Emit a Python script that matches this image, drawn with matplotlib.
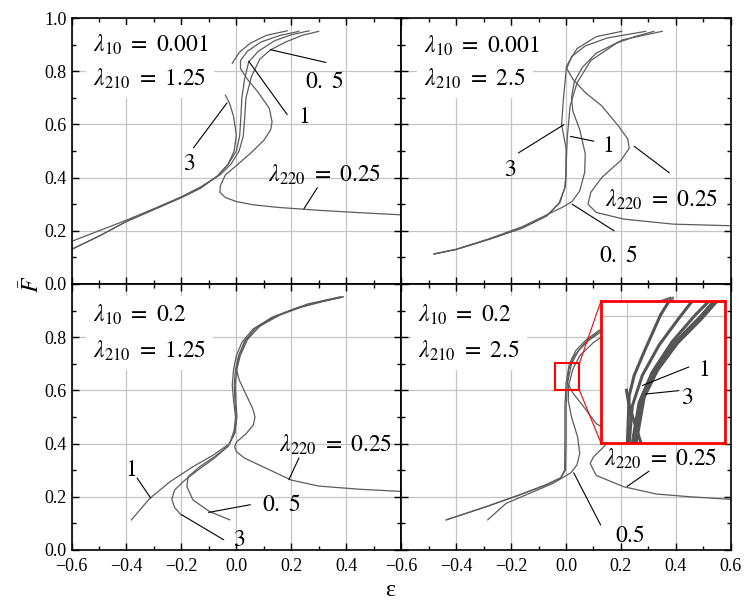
import matplotlib.pyplot as plt
from matplotlib.patches import Rectangle

plt.rcParams['font.family'] = 'Liberation Serif'
plt.rcParams['mathtext.fontset'] = 'stix'

# top-left panel: lambda10 = 0.001, lambda210 = 1.25
tl_3 = [(-0.6, 0.13), (-0.5, 0.18), (-0.4, 0.235), (-0.3, 0.28), (-0.2, 0.325), (-0.13, 0.36),
        (-0.07, 0.405), (-0.03, 0.45), (-0.008, 0.50), (0.0, 0.56), (-0.01, 0.63), (-0.025, 0.68), (-0.04, 0.71)]
tl_3u = [(-0.015, 0.83), (0.01, 0.87), (0.05, 0.905), (0.11, 0.935), (0.185, 0.952)]
tl_1 = [(-0.6, 0.13), (-0.5, 0.18), (-0.4, 0.235), (-0.3, 0.28), (-0.2, 0.325), (-0.13, 0.362),
        (-0.07, 0.405), (-0.03, 0.45), (0.0, 0.50), (0.012, 0.556), (0.016, 0.62), (0.02, 0.70),
        (0.03, 0.77), (0.045, 0.835), (0.08, 0.875), (0.14, 0.915), (0.2, 0.937), (0.265, 0.952)]
tl_05 = [(-0.6, 0.16), (-0.5, 0.2), (-0.4, 0.24), (-0.3, 0.283), (-0.2, 0.328), (-0.13, 0.365),
         (-0.06, 0.41), (-0.02, 0.45), (0.01, 0.50), (0.025, 0.556), (0.03, 0.62), (0.035, 0.70),
         (0.055, 0.78), (0.085, 0.845), (0.124, 0.88), (0.18, 0.91), (0.24, 0.935), (0.30, 0.95)]
tl_025 = [(0.6, 0.26), (0.45, 0.268), (0.3, 0.277), (0.15, 0.288), (0.06, 0.298), (0.0, 0.31),
          (-0.04, 0.325), (-0.06, 0.345), (-0.058, 0.37), (-0.04, 0.41), (0.0, 0.445), (0.05, 0.49),
          (0.1, 0.54), (0.125, 0.58), (0.13, 0.61), (0.12, 0.66), (0.08, 0.72), (0.04, 0.77),
          (0.015, 0.81), (0.015, 0.84), (0.04, 0.875), (0.09, 0.91), (0.16, 0.935), (0.228, 0.95)]

# top-right panel: lambda10 = 0.001, lambda210 = 2.5
tr_3 = [(-0.48, 0.113), (-0.4, 0.13), (-0.28, 0.168), (-0.16, 0.21), (-0.07, 0.256), (-0.025, 0.305),
        (-0.005, 0.36), (0.0, 0.41), (0.0, 0.51), (-0.016, 0.60), (-0.01, 0.69), (0.002, 0.82),
        (0.04, 0.885), (0.11, 0.93), (0.203, 0.95)]
tr_1 = [(-0.48, 0.113), (-0.4, 0.13), (-0.28, 0.168), (-0.16, 0.21), (-0.07, 0.256), (-0.022, 0.306),
        (-0.002, 0.37), (0.0, 0.44), (0.005, 0.556), (0.015, 0.67), (0.04, 0.756), (0.09, 0.84),
        (0.185, 0.906), (0.25, 0.93), (0.32, 0.95)]
tr_05 = [(-0.48, 0.113), (-0.4, 0.13), (-0.28, 0.17), (-0.16, 0.215), (-0.07, 0.26), (-0.01, 0.29),
         (0.022, 0.31), (0.05, 0.35), (0.068, 0.42), (0.07, 0.49), (0.05, 0.58), (0.025, 0.65),
         (0.02, 0.70), (0.03, 0.76), (0.06, 0.815), (0.11, 0.868), (0.206, 0.918), (0.35, 0.95)]
tr_025 = [(0.6, 0.219), (0.39, 0.225), (0.21, 0.244), (0.11, 0.269), (0.08, 0.30), (0.09, 0.344),
          (0.13, 0.40), (0.2, 0.465), (0.23, 0.51), (0.225, 0.545), (0.19, 0.595), (0.13, 0.67),
          (0.07, 0.72), (0.025, 0.77), (0.003, 0.81), (0.02, 0.855), (0.07, 0.895), (0.15, 0.925), (0.29, 0.95)]

# bottom-left panel: lambda10 = 0.2, lambda210 = 1.25
bl_1 = [(-0.382, 0.113), (-0.315, 0.194), (-0.242, 0.256), (-0.158, 0.313), (-0.085, 0.356),
        (-0.024, 0.40), (-0.008, 0.45), (-0.003, 0.50), (-0.01, 0.56), (-0.015, 0.62), (-0.01, 0.68),
        (0.0, 0.73), (0.02, 0.78), (0.06, 0.83), (0.13, 0.875), (0.22, 0.91), (0.3, 0.932), (0.38, 0.95)]
bl_3 = [(-0.2, 0.13), (-0.225, 0.16), (-0.235, 0.19), (-0.225, 0.225), (-0.19, 0.26), (-0.14, 0.3),
        (-0.08, 0.345), (-0.03, 0.39), (-0.005, 0.44), (0.0, 0.50), (-0.005, 0.56), (-0.008, 0.62),
        (-0.003, 0.68), (0.008, 0.73), (0.03, 0.785), (0.07, 0.835), (0.14, 0.878), (0.23, 0.912),
        (0.31, 0.934), (0.385, 0.95)]
bl_05 = [(-0.024, 0.113), (-0.097, 0.144), (-0.158, 0.188), (-0.18, 0.238), (-0.176, 0.275),
         (-0.133, 0.313), (-0.08, 0.35), (-0.03, 0.39), (-0.006, 0.44), (0.002, 0.50), (-0.002, 0.56),
         (-0.004, 0.62), (0.002, 0.68), (0.014, 0.73), (0.04, 0.79), (0.08, 0.838), (0.15, 0.88),
         (0.24, 0.914), (0.32, 0.935), (0.39, 0.952)]
bl_025 = [(0.6, 0.22), (0.45, 0.228), (0.3, 0.24), (0.2, 0.2625), (0.097, 0.3125), (0.03, 0.345),
          (0.0, 0.37), (-0.006, 0.3875), (0.0, 0.405), (0.036, 0.4375), (0.062, 0.47), (0.068, 0.5),
          (0.06, 0.53), (0.035, 0.585), (0.01, 0.64), (0.0, 0.68), (0.01, 0.73), (0.035, 0.79),
          (0.09, 0.845), (0.17, 0.89), (0.26, 0.925), (0.38, 0.952)]

# bottom-right panel: lambda10 = 0.2, lambda210 = 2.5
br_3 = [(-0.436, 0.113), (-0.29, 0.1625), (-0.17, 0.206), (-0.073, 0.244), (-0.02, 0.27), (-0.005, 0.3),
        (-0.004, 0.41), (-0.004, 0.54), (0.0, 0.625), (0.012, 0.70), (0.036, 0.75), (0.073, 0.79),
        (0.12, 0.825), (0.2, 0.87), (0.3, 0.915), (0.39, 0.95)]
br_1 = [(-0.436, 0.113), (-0.29, 0.163), (-0.17, 0.207), (-0.073, 0.245), (-0.018, 0.272), (-0.002, 0.3),
        (0.0, 0.41), (0.0, 0.54), (0.005, 0.625), (0.02, 0.70), (0.046, 0.75), (0.085, 0.79),
        (0.135, 0.825), (0.215, 0.87), (0.31, 0.915), (0.39, 0.945)]
br_05 = [(-0.285, 0.113), (-0.218, 0.175), (-0.133, 0.2125), (-0.048, 0.25), (0.018, 0.29), (0.04, 0.32),
         (0.05, 0.3625), (0.042, 0.425), (0.02, 0.5), (0.008, 0.5625), (0.01, 0.62), (0.025, 0.68),
         (0.05, 0.73), (0.1, 0.78), (0.17, 0.83), (0.26, 0.88), (0.39, 0.94)]
br_025 = [(0.6, 0.19), (0.45, 0.2), (0.33, 0.21), (0.21, 0.2375), (0.11, 0.28), (0.088, 0.325),
          (0.1, 0.35), (0.14, 0.39), (0.16, 0.42), (0.15, 0.45), (0.11, 0.475), (0.063, 0.54),
          (0.025, 0.59), (0.005, 0.63), (0.01, 0.68), (0.03, 0.73), (0.07, 0.78), (0.13, 0.83),
          (0.22, 0.88), (0.3, 0.92), (0.38, 0.95)]

# magnified detail shown in the inset of the bottom-right panel
ins_a = [(0.0, 0.600), (0.0002, 0.606), (0.0016, 0.641), (0.0054, 0.656), (0.0130, 0.6735), (0.0256, 0.701), (0.032, 0.711), (0.036, 0.717)]
ins_b = [(0.0012, 0.600), (0.0016, 0.606), (0.0040, 0.6335), (0.0116, 0.656), (0.0244, 0.6785), (0.0396, 0.6985), (0.0496, 0.711), (0.055, 0.716)]
ins_c = [(0.0035, 0.600), (0.0040, 0.606), (0.0092, 0.636), (0.0192, 0.6585), (0.0344, 0.681), (0.0522, 0.701), (0.0624, 0.711), (0.068, 0.716)]
ins_d = [(0.0048, 0.600), (0.0054, 0.606), (0.0116, 0.641), (0.0218, 0.661), (0.0370, 0.681), (0.0548, 0.6985), (0.0662, 0.711), (0.072, 0.716)]
ins_e = [(0.0063, 0.600), (0.0069, 0.606), (0.0131, 0.640), (0.0233, 0.660), (0.0385, 0.680), (0.0563, 0.6975), (0.0677, 0.710), (0.074, 0.715)]
ins_f = [(-0.0005, 0.645), (0.0016, 0.6335), (0.0060, 0.620), (0.0125, 0.600)]

lam10 = ['0.001', '0.001', '0.2', '0.2']
lam210 = ['1.25', '2.5', '1.25', '2.5']
xlabels = ['\u22120.6', '\u22120.4', '\u22120.2', '0.0', '0.2', '0.4', '0.6']
ylabels = ['0.0', '0.2', '0.4', '0.6', '0.8', '1.0']
curves = [[tl_3, tl_3u, tl_1, tl_05, tl_025], [tr_3, tr_1, tr_05, tr_025],
          [bl_1, bl_3, bl_05, bl_025], [br_3, br_1, br_05, br_025]]
lam_pos = [(-0.52, 0.90, 0.77), (-0.516, 0.895, 0.77), (-0.523, 0.883, 0.75), (-0.537, 0.883, 0.75)]

LINE = '#5c5c5c'
GRID = '#c4c4c4'
FS = 17

fig, axes = plt.subplots(2, 2, figsize=(7.45, 6.01), dpi=100)
fig.subplots_adjust(left=0.096, right=0.981, top=0.970, bottom=0.085, wspace=0, hspace=0)
axs = axes.ravel()

for i, ax in enumerate(axs):
    ax.set_xlim(-0.6, 0.6)
    ax.set_ylim(0, 1.0)
    ax.set_xticks([-0.6, -0.4, -0.2, 0.0, 0.2, 0.4, 0.6])
    ax.set_xticks([-0.5, -0.3, -0.1, 0.1, 0.3, 0.5], minor=True)
    ax.set_yticks([0.0, 0.2, 0.4, 0.6, 0.8, 1.0])
    ax.set_yticks([0.1, 0.3, 0.5, 0.7, 0.9], minor=True)
    ax.set_axisbelow(True)
    ax.grid(True, which='major', color=GRID, lw=0.9)
    ax.tick_params(which='both', direction='in', top=True, right=True, width=1, labelsize=13)
    ax.tick_params(which='major', length=5)
    ax.tick_params(which='minor', length=3)
    ax.tick_params(axis='x', pad=6)
    for sp in ax.spines.values():
        sp.set_linewidth(1.2)
    for pts in curves[i]:
        xs, ys = zip(*pts)
        ax.plot(xs, ys, color=LINE, lw=0.9)
    x0, y1, y2 = lam_pos[i]
    box = dict(boxstyle='square,pad=0.3', fc='white', ec='none')
    ax.text(x0, y1, r'$\lambda_{10}\ =\ %s$' % lam10[i], fontsize=FS, ha='left', va='center', bbox=box)
    ax.text(x0, y2, r'$\lambda_{210}\ =\ %s$' % lam210[i], fontsize=FS, ha='left', va='center', bbox=box)

# tick labels: left column only for y, bottom row only for x
axs[0].set_yticklabels(ylabels)
axs[2].set_yticklabels(ylabels[:-1] + [''])
axs[1].set_yticklabels([])
axs[3].set_yticklabels([])
axs[0].set_xticklabels([])
axs[1].set_xticklabels([])
axs[2].set_xticklabels(xlabels[:-1] + [''])
axs[3].set_xticklabels(xlabels)


def lead(ax, a, b):
    ax.annotate('', xy=a, xytext=b, arrowprops=dict(arrowstyle='-', color='k', lw=0.8, shrinkA=0, shrinkB=0))


def lab(ax, x, y, s, ha='center'):
    ax.text(x, y, s, fontsize=FS, ha=ha, va='center')


ax = axs[0]
lab(ax, 0.32, 0.757, r'$0.\ 5$')
lead(ax, (0.124, 0.881), (0.326, 0.833))
lab(ax, 0.245, 0.625, r'$1$')
lead(ax, (0.045, 0.8375), (0.185, 0.637))
lab(ax, -0.172, 0.45, r'$3$')
lead(ax, (-0.034, 0.681), (-0.156, 0.512))
lab(ax, 0.117, 0.41, r'$\lambda_{220}\ =\ 0.25$', ha='left')
lead(ax, (0.246, 0.283), (0.295, 0.362))

ax = axs[1]
lab(ax, 0.15, 0.517, r'$1$')
lead(ax, (0.016, 0.555), (0.101, 0.537))
lab(ax, -0.205, 0.427, r'$3$')
lead(ax, (-0.008, 0.599), (-0.173, 0.493))
lab(ax, 0.143, 0.318, r'$\lambda_{220}\ =\ 0.25$', ha='left')
lead(ax, (0.248, 0.518), (0.376, 0.418))
lab(ax, 0.19, 0.105, r'$0.\ 5$')
lead(ax, (0.022, 0.30), (0.175, 0.2))

ax = axs[2]
lab(ax, -0.385, 0.30, r'$1$')
lead(ax, (-0.312, 0.195), (-0.361, 0.27))
lab(ax, 0.094, 0.166, r'$0.\ 5$', ha='left')
lead(ax, (-0.101, 0.141), (0.051, 0.17))
lab(ax, 0.011, 0.035, r'$3$')
lead(ax, (-0.199, 0.132), (-0.046, 0.038))
lab(ax, 0.154, 0.396, r'$\lambda_{220}\ =\ 0.25$', ha='left')
lead(ax, (0.191, 0.264), (0.228, 0.346))

ax = axs[3]
lab(ax, 0.138, 0.343, r'$\lambda_{220}\ =\ 0.25$', ha='left')
lead(ax, (0.223, 0.239), (0.302, 0.296))
lab(ax, 0.234, 0.05, r'$0.5$')
lead(ax, (0.028, 0.29), (0.126, 0.094))

# zoom box and inset
ax.add_patch(Rectangle((-0.04, 0.60), 0.089, 0.1025, fill=False, ec='red', lw=1.5, zorder=5))
ax.plot([0.049, 0.127], [0.7025, 0.935], color='red', lw=0.8, zorder=5)
ax.plot([0.049, 0.127], [0.60, 0.4025], color='red', lw=0.8, zorder=5)
axin = ax.inset_axes([0.127, 0.4025, 0.453, 0.5325], transform=ax.transData, zorder=6)
axin.set_facecolor('white')
axin.set_xlim(-0.02, 0.075)
axin.set_ylim(0.606, 0.711)
axin.set_xticks([0.0])
axin.set_yticks([0.7])
axin.set_xticklabels([])
axin.set_yticklabels([])
axin.tick_params(length=0)
axin.grid(True, color=GRID, lw=0.9)
for sp in axin.spines.values():
    sp.set_color('red')
    sp.set_linewidth(2)
for pts in [ins_a, ins_b, ins_c, ins_d, ins_e, ins_f]:
    xs, ys = zip(*pts)
    axin.plot(xs, ys, color='#555555', lw=2.2)
axin.text(0.827, 0.512, r'$1$', fontsize=FS, ha='center', va='center', transform=axin.transAxes)
axin.text(0.693, 0.31, r'$3$', fontsize=FS, ha='center', va='center', transform=axin.transAxes)
axin.annotate('', xy=(0.333, 0.405), xytext=(0.707, 0.536), xycoords='axes fraction', textcoords='axes fraction',
              arrowprops=dict(arrowstyle='-', color='k', lw=0.8, shrinkA=0, shrinkB=0))
axin.annotate('', xy=(0.36, 0.345), xytext=(0.627, 0.369), xycoords='axes fraction', textcoords='axes fraction',
              arrowprops=dict(arrowstyle='-', color='k', lw=0.8, shrinkA=0, shrinkB=0))

fig.text(0.043, 0.526, r'$\bar{F}$', fontsize=17, rotation=90, ha='center', va='center')
fig.text(0.523, 0.018, 'ε', fontsize=17, ha='center', va='center')

fig.savefig('out.png', dpi=100)
